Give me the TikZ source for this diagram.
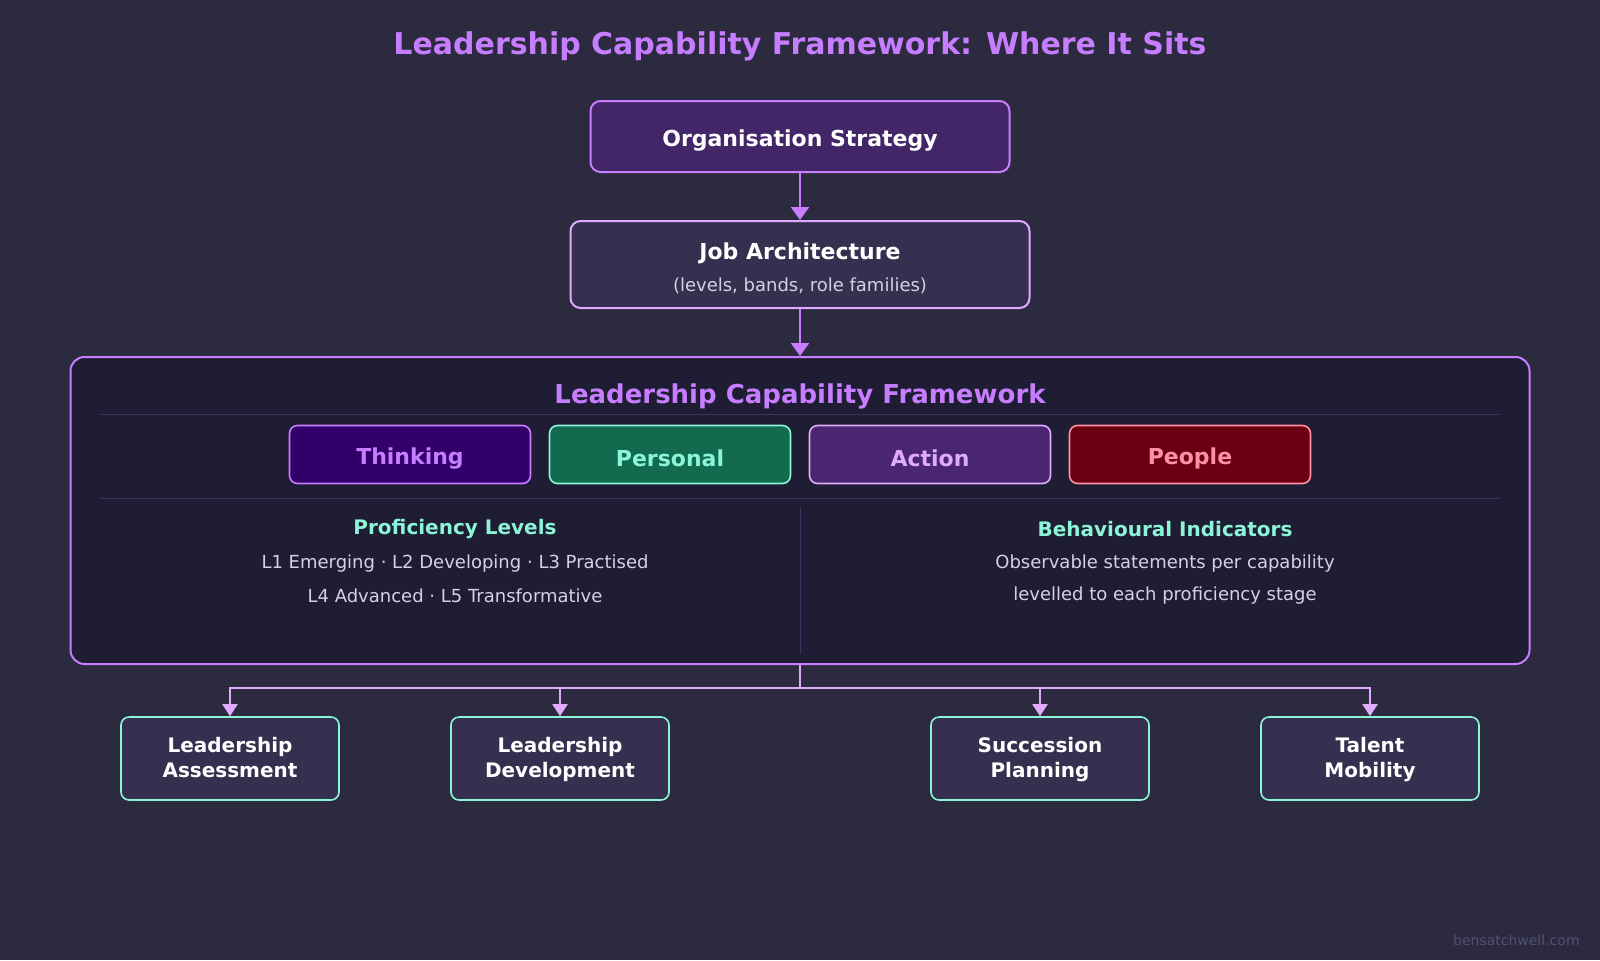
\documentclass[tikz,border=0pt]{standalone}
\usepackage{fontspec}
\setmainfont{DejaVu Sans}
\usepackage{xcolor}
\usepackage{tikz}
\usetikzlibrary{arrows.meta,positioning}
\definecolor{pagebg}{HTML}{2B2A3E}
\definecolor{panelbg}{HTML}{1F1D33}
\definecolor{violet}{HTML}{C77DFF}
\definecolor{lavender}{HTML}{E0AAFF}
\definecolor{mint}{HTML}{8CF5D8}
\definecolor{rose}{HTML}{FF8FA3}
\definecolor{stratfill}{HTML}{432668}
\definecolor{boxfill}{HTML}{35304F}
\definecolor{rulecol}{HTML}{41335F}
\definecolor{bodytext}{HTML}{D4D2E2}
\definecolor{markcol}{HTML}{524F76}
\definecolor{thinkfill}{HTML}{33006B}
\definecolor{personfill}{HTML}{136B4F}
\definecolor{actfill}{HTML}{4A2570}
\definecolor{peoplefill}{HTML}{6B0013}

\begin{document}
\begin{tikzpicture}[x=0.5pt,y=-0.5pt,
    topbox/.style={line width=1pt, rounded corners=5pt, inner sep=0pt, text=white, align=center},
    chip/.style={line width=0.8pt, rounded corners=4pt, inner sep=0pt, text height=12pt,
        minimum width=120.5pt, minimum height=29pt, font=\bfseries\fontsize{11}{13}\selectfont},
    usebox/.style={fill=boxfill, draw=mint, line width=0.8pt, rounded corners=4pt, inner sep=0pt,
        minimum width=109pt, minimum height=41.5pt, align=center, text=white, text depth=1pt,
        font=\bfseries\fontsize{10}{12.25}\selectfont},
    flow/.style={violet, line width=1.25pt, -{Triangle[width=9pt,length=6.5pt]}},
    feed/.style={lavender, line width=1pt, -{Triangle[width=7.5pt,length=6pt]}}]

% ---- Page ----
\fill[pagebg] (0,0) rectangle (1600,960);
\useasboundingbox (0,0) rectangle (1600,960);

\node[font=\bfseries\fontsize{15}{17}\selectfont, text=violet] (title) at (800,46.5)
    {Leadership Capability Framework: Where It Sits};

% ---- Strategy and architecture ----
\node[topbox, fill=stratfill, draw=violet, minimum width=209.5pt, minimum height=35.5pt, text height=12pt,
    font=\bfseries\fontsize{11}{13}\selectfont] (strategy) at (800,136.5) {Organisation Strategy};

\node[topbox, fill=boxfill, draw=lavender, minimum width=229.5pt, minimum height=43.5pt] (jobarch) at (800,264.5) {};
\node[font=\bfseries\fontsize{11}{13}\selectfont, text=white] (jobtitle) at (800,253) {Job Architecture};
\node[font=\fontsize{9}{11}\selectfont, text=bodytext] (jobsub) at (800,285.5) {(levels, bands, role families)};

% ---- Framework panel ----
\node[fill=panelbg, draw=violet, line width=1pt, rounded corners=7pt, inner sep=0pt,
    minimum width=729.5pt, minimum height=153.5pt] (frame) at (800,510.5) {};

\draw[flow] (strategy) -- (jobarch);
\draw[flow] (jobarch) -- (frame);

\node[font=\bfseries\fontsize{13}{15}\selectfont, text=violet] (frametitle) at (800,396) {Leadership Capability Framework};
\draw[rulecol, line width=0.5pt] (100,414.5) -- (1500,414.5);
\draw[rulecol, line width=0.5pt] (100,498) -- (1500,498);
\draw[rulecol, line width=0.5pt] (800,507) -- (800,654);

% Capability clusters
\node[chip, fill=thinkfill, draw=violet, text=violet] (thinking) at (410,454.5) {Thinking};
\node[chip, fill=personfill, draw=mint, text=mint] (personal) at (670,454.5) {Personal};
\node[chip, fill=actfill, draw=lavender, text=lavender] (action) at (930,454.5) {Action};
\node[chip, fill=peoplefill, draw=rose, text=rose] (people) at (1190,454.5) {People};

% Levels and indicators
\node[font=\bfseries\fontsize{10}{12}\selectfont, text=mint] (levels) at (455,529.5) {Proficiency Levels};
\node[font=\fontsize{9}{11}\selectfont, text=bodytext] (levelsa) at (455,564) {L1 Emerging · L2 Developing · L3 Practised};
\node[font=\fontsize{9}{11}\selectfont, text=bodytext] (levelsb) at (455,596) {L4 Advanced · L5 Transformative};

\node[font=\bfseries\fontsize{10}{12}\selectfont, text=mint] (indic) at (1165,529.5) {Behavioural Indicators};
\node[font=\fontsize{9}{11}\selectfont, text=bodytext] (indica) at (1165,564) {Observable statements per capability};
\node[font=\fontsize{9}{11}\selectfont, text=bodytext] (indicb) at (1165,596) {levelled to each proficiency stage};

% ---- Uses of the framework ----
\node[usebox] (assess) at (230,758.5) {Leadership\\Assessment};
\node[usebox] (develop) at (560,758.5) {Leadership\\Development};
\node[usebox] (success) at (1040,758.5) {Succession\\Planning};
\node[usebox] (mobility) at (1370,758.5) {Talent\\Mobility};

\coordinate (hub) at (800,688);
\draw[lavender, line width=1pt] (frame.south) -- (hub);
\foreach \target in {assess,develop,success,mobility}
    \draw[feed] (hub) -| (\target.north);

\node[font=\fontsize{7}{8}\selectfont, text=markcol, anchor=east, inner sep=0pt] (mark) at (1580,940) {bensatchwell.com};

\end{tikzpicture}
\end{document}
